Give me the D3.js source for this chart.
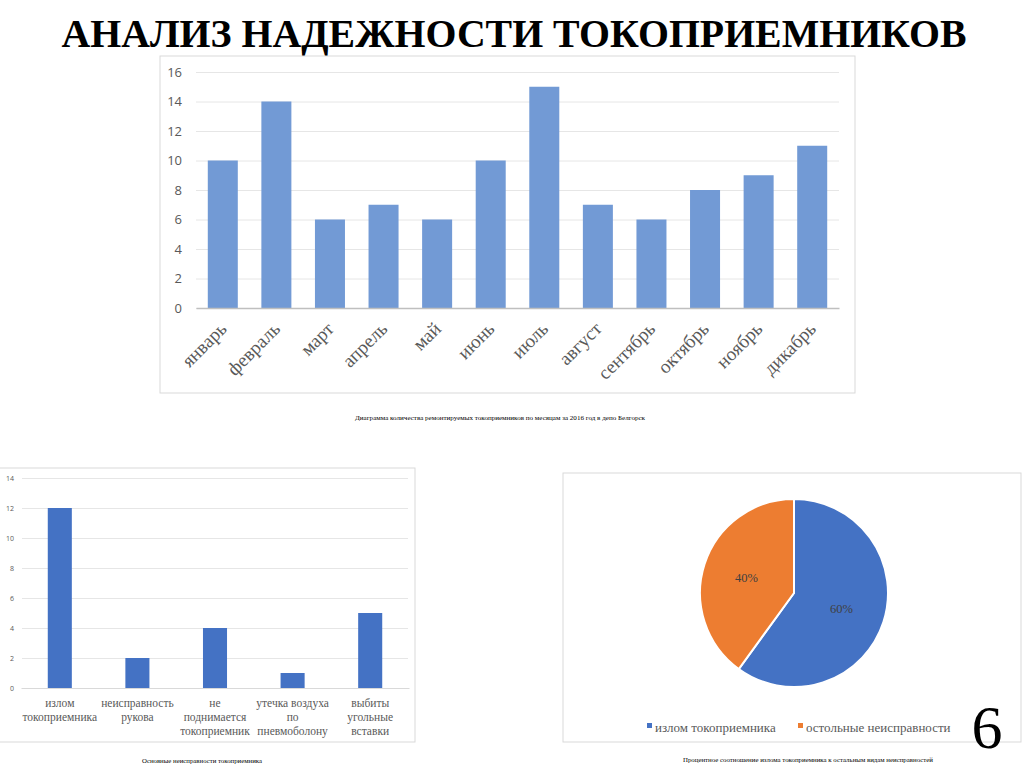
<!DOCTYPE html>
<html>
<head>
<meta charset="utf-8">
<script src="https://cdn.jsdelivr.net/npm/d3@7"></script>
<style>
  html, body { margin: 0; padding: 0; background: #fff; }
  svg { display: block; }
</style>
</head>
<body>
<script>
// ДАННЫЕ

const months = ['январь', 'февраль', 'март', 'апрель', 'май', 'июнь', 'июль', 'август', 'сентябрь', 'октябрь', 'ноябрь', 'дикабрь']
const monthValues = [10, 14, 6, 7, 6, 10, 15, 7, 6, 8, 9, 11]
const monthTicks = [0, 2, 4, 6, 8, 10, 12, 14, 16]

const faults = [
  ['излом', 'токоприемника'],
  ['неисправность', 'рукова'],
  ['не', 'поднимается', 'токоприемник'],
  ['утечка воздуха', 'по', 'пневмоболону'],
  ['выбиты', 'угольные', 'вставки']
]
const faultValues = [12, 2, 4, 1, 5]
const faultTicks = [0, 2, 4, 6, 8, 10, 12, 14]

const pieLabels = ['излом токоприемника', 'остольные неисправности']
const pieValues = [60, 40]

const title = 'АНАЛИЗ НАДЕЖНОСТИ ТОКОПРИЕМНИКОВ'
const caption1 = 'Диаграмма количества ремонтируемых токоприемников по месяцам за 2016 год в депо Белгорск'
const caption2 = 'Основные неисправности токоприемника'
const caption3 = 'Процентное соотношение излома токоприемника к остальным видам неисправностей'
const slideNumber = '6'

const serif = "'Liberation Serif', 'Times New Roman', 'DejaVu Serif', 'Noto Serif', serif"
const sans = "'Open Sans', 'Liberation Sans', sans-serif"
const gridColor = '#e6e6e6'
const textColor = '#595959'

const svg = d3.select('body').append('svg')
  .attr('width', 1024)
  .attr('height', 767)

svg.append('rect').attr('width', 1024).attr('height', 767).attr('fill', '#fff')

// ЗАГОЛОВОК
svg.append('text')
  .attr('x', 514).attr('y', 47)
  .attr('text-anchor', 'middle')
  .style('font-family', serif)
  .attr('font-weight', 'bold')
  .attr('font-size', 40)
  .attr('textLength', 905)
  .attr('lengthAdjust', 'spacingAndGlyphs')
  .text(title)

/*
ВЕРХНЯЯ ДИАГРАММА - ПО МЕСЯЦАМ
*/

svg.append('rect')
  .attr('x', 160).attr('y', 56).attr('width', 695).attr('height', 337)
  .attr('fill', 'none').attr('stroke', '#d9d9d9')

const x1 = d3.scaleBand().domain(months).range([196, 839]).paddingInner(0.44).paddingOuter(0.22)
const y1 = d3.scaleLinear().domain([0, 16]).range([308, 72])

const g1 = svg.append('g')

g1.append('g')
  .attr('transform', 'translate(196,0)')
  .call(d3.axisLeft(y1).tickValues(monthTicks).tickSize(-643).tickPadding(14))
  .call(g => g.select('.domain').remove())
  .call(g => g.selectAll('line').attr('stroke', gridColor))
  .call(g => g.selectAll('text').attr('fill', textColor).style('font-family', sans).attr('font-size', 13))

g1.selectAll('rect.bar')
  .data(monthValues)
  .enter()
  .append('rect')
  .attr('class', 'bar')
  .attr('x', (d, i) => x1(months[i]))
  .attr('y', d => y1(d))
  .attr('width', x1.bandwidth())
  .attr('height', d => y1(0) - y1(d))
  .attr('fill', '#729ad5')

g1.append('g')
  .attr('transform', 'translate(0,308)')
  .call(d3.axisBottom(x1).tickSize(0).tickFormat(''))
  .call(g => g.select('.domain').attr('stroke', '#bfbfbf').attr('stroke-width', 1.5))

g1.selectAll('text.month')
  .data(months)
  .enter()
  .append('text')
  .attr('class', 'month')
  .attr('transform', d => `translate(${x1(d) + x1.bandwidth() / 2 + 5},${330}) rotate(-45)`)
  .attr('text-anchor', 'end')
  .style('font-family', serif)
  .attr('font-size', 19)
  .attr('fill', textColor)
  .text(d => d)

svg.append('text')
  .attr('x', 500).attr('y', 420)
  .attr('text-anchor', 'middle')
  .style('font-family', serif)
  .attr('font-size', 5.5)
  .attr('textLength', 290)
  .attr('lengthAdjust', 'spacingAndGlyphs')
  .text(caption1)

/*
НИЖНЯЯ ЛЕВАЯ - НЕИСПРАВНОСТИ
*/

svg.append('rect')
  .attr('x', -1).attr('y', 468).attr('width', 416).attr('height', 274)
  .attr('fill', 'none').attr('stroke', '#d9d9d9')

const faultKeys = faults.map(d => d.join(' '))
const x2 = d3.scaleBand().domain(faultKeys).range([21, 409]).paddingInner(0.69).paddingOuter(0.345)
const y2 = d3.scaleLinear().domain([0, 14]).range([688, 478])

const g2 = svg.append('g')

g2.append('g')
  .attr('transform', 'translate(22,0)')
  .call(d3.axisLeft(y2).tickValues(faultTicks).tickSize(-386).tickPadding(8))
  .call(g => g.select('.domain').remove())
  .call(g => g.selectAll('line').attr('stroke', gridColor))
  .call(g => g.selectAll('text').attr('fill', textColor).style('font-family', sans).attr('font-size', 7))

g2.selectAll('rect.bar')
  .data(faultValues)
  .enter()
  .append('rect')
  .attr('class', 'bar')
  .attr('x', (d, i) => x2(faultKeys[i]))
  .attr('y', d => y2(d))
  .attr('width', x2.bandwidth())
  .attr('height', d => y2(0) - y2(d))
  .attr('fill', '#4472c4')

g2.append('g')
  .attr('transform', 'translate(0,688)')
  .call(d3.axisBottom(x2).tickSize(0).tickFormat(''))
  .call(g => g.select('.domain').attr('stroke', '#d9d9d9'))

const labels2 = g2.selectAll('text.fault')
  .data(faults)
  .enter()
  .append('text')
  .attr('class', 'fault')
  .attr('text-anchor', 'middle')
  .style('font-family', serif)
  .attr('font-size', 11.5)
  .attr('fill', textColor)

labels2.selectAll('tspan')
  .data((d, i) => d.map(t => ({ t: t, x: x2(faultKeys[i]) + x2.bandwidth() / 2 })))
  .enter()
  .append('tspan')
  .attr('x', d => d.x)
  .attr('y', (d, j) => 707 + j * 14)
  .text(d => d.t)

svg.append('text')
  .attr('x', 202).attr('y', 763)
  .attr('text-anchor', 'middle')
  .style('font-family', serif)
  .attr('font-size', 5.5)
  .attr('textLength', 120)
  .attr('lengthAdjust', 'spacingAndGlyphs')
  .text(caption2)

/*
КРУГОВАЯ ДИАГРАММА
*/

svg.append('rect')
  .attr('x', 563).attr('y', 473).attr('width', 458).attr('height', 269)
  .attr('fill', 'none').attr('stroke', '#d9d9d9')

const pieColors = d3.scaleOrdinal().domain(pieLabels).range(['#4472c4', '#ed7d31'])
const pie = d3.pie().sort(null).value(d => d)
const arc = d3.arc().innerRadius(0).outerRadius(94)
const labelArc = d3.arc().innerRadius(50).outerRadius(50)

const g3 = svg.append('g').attr('transform', 'translate(794,593)')

const arcs = pie(pieValues)

g3.selectAll('path')
  .data(arcs)
  .enter()
  .append('path')
  .attr('d', arc)
  .attr('fill', (d, i) => pieColors(pieLabels[i]))
  .attr('stroke', '#fff')
  .attr('stroke-width', 2)

g3.selectAll('text')
  .data(arcs)
  .enter()
  .append('text')
  .attr('transform', d => `translate(${labelArc.centroid(d)})`)
  .attr('text-anchor', 'middle')
  .attr('dy', '0.35em')
  .style('font-family', serif)
  .attr('font-size', 12.5)
  .attr('fill', '#404040')
  .text(d => d.data + '%')

// легенда
const legendX = [647, 798]
const legend = svg.selectAll('g.legend')
  .data(pieLabels)
  .enter()
  .append('g')
  .attr('class', 'legend')
  .attr('transform', (d, i) => `translate(${legendX[i]},727)`)

legend.append('rect')
  .attr('x', 0).attr('y', -4).attr('width', 5).attr('height', 5)
  .attr('fill', d => pieColors(d))

legend.append('text')
  .attr('x', 8).attr('y', 0)
  .attr('dy', '0.35em')
  .style('font-family', serif)
  .attr('font-size', 13)
  .attr('fill', textColor)
  .text(d => d)

svg.append('text')
  .attr('x', 808).attr('y', 762)
  .attr('text-anchor', 'middle')
  .style('font-family', serif)
  .attr('font-size', 5.5)
  .attr('textLength', 250)
  .attr('lengthAdjust', 'spacingAndGlyphs')
  .text(caption3)

// номер слайда
svg.append('text')
  .attr('x', 987).attr('y', 748)
  .attr('text-anchor', 'middle')
  .style('font-family', serif)
  .attr('font-size', 62)
  .attr('fill', '#000')
  .text(slideNumber)
</script>
</body>
</html>
